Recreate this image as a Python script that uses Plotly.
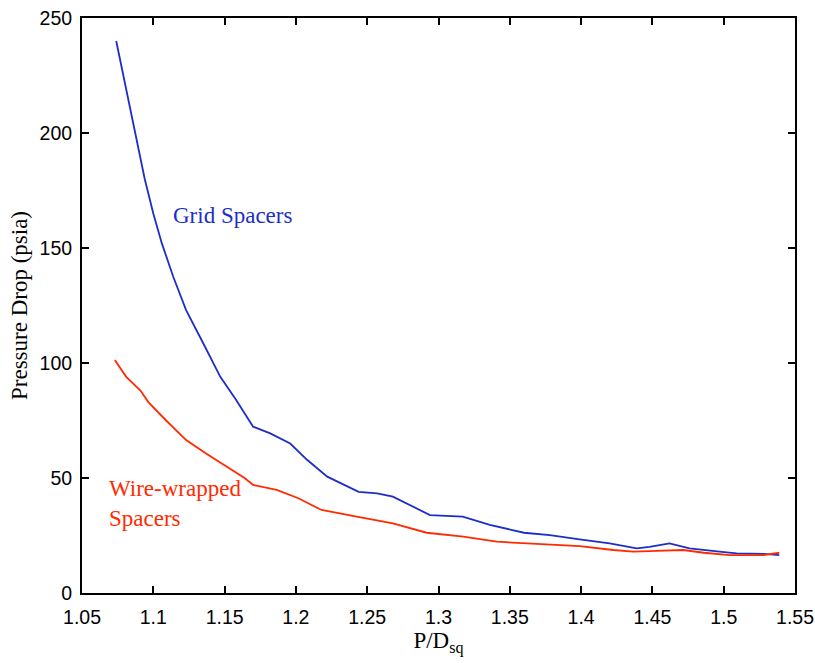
import plotly.graph_objects as go

# Grid spacers (blue)
grid_x = [1.074, 1.080, 1.087, 1.094, 1.100, 1.106, 1.114, 1.123, 1.135, 1.147,
          1.158, 1.170, 1.182, 1.196, 1.208, 1.222, 1.244, 1.257, 1.268, 1.294,
          1.317, 1.336, 1.360, 1.378, 1.399, 1.420, 1.439, 1.448, 1.462, 1.476,
          1.497, 1.509, 1.528, 1.539]
grid_y = [240, 222, 200, 180, 165, 152, 137.5, 123, 108.6, 94,
          84, 72.3, 69.4, 65, 57.8, 50.6, 44, 43.3, 41.9, 33.9,
          33.2, 29.6, 26.2, 25.2, 23.3, 21.6, 19.4, 20.1, 21.6, 19.4,
          18, 17.2, 17, 16.5]

# Wire-wrapped spacers (red)
wire_x = [1.073, 1.081, 1.091, 1.0965, 1.109, 1.123, 1.137, 1.151, 1.164, 1.170,
          1.1865, 1.2017, 1.218, 1.2426, 1.268, 1.2917, 1.3174, 1.3408, 1.3618, 1.378,
          1.399, 1.4225, 1.4366, 1.453, 1.4716, 1.486, 1.5044, 1.528, 1.539]
wire_y = [101.3, 94, 88, 83, 75, 66.5, 60.7, 55, 50, 47,
          44.8, 41.2, 36.1, 33.2, 30.3, 26.2, 24.5, 22.3, 21.6, 21.3,
          20.4, 18.7, 18, 18.3, 18.7, 17.5, 16.5, 16.5, 17.5]

x_ticks = [1.05, 1.1, 1.15, 1.2, 1.25, 1.3, 1.35, 1.4, 1.45, 1.5, 1.55]
x_tick_text = ["1.05", "1.1", "1.15", "1.2", "1.25", "1.3", "1.35", "1.4", "1.45", "1.5", "1.55"]
y_ticks = [0, 50, 100, 150, 200, 250]

BLUE = "#1c2ec8"
RED = "#ff2a00"
SERIF = "Liberation Serif"

fig = go.Figure()
fig.add_trace(go.Scatter(x=grid_x, y=grid_y, mode="lines",
                         line=dict(color=BLUE, width=1.8), showlegend=False))
fig.add_trace(go.Scatter(x=wire_x, y=wire_y, mode="lines",
                         line=dict(color=RED, width=1.8), showlegend=False))

fig.add_annotation(x=1.1555, y=164, text="Grid Spacers", showarrow=False,
                   font=dict(family=SERIF, size=23, color=BLUE),
                   xanchor="center", yanchor="middle")
fig.add_annotation(x=1.0675, y=38.9, text="Wire-wrapped<br>Spacers", showarrow=False,
                   font=dict(family=SERIF, size=23, color=RED),
                   xanchor="left", yanchor="middle", align="left")

axis_common = dict(showline=True, linecolor="black", linewidth=2, mirror="allticks",
                   ticks="inside", ticklen=7, tickwidth=1.6, tickcolor="black",
                   showgrid=False, zeroline=False, automargin=False,
                   ticklabeloverflow="allow",
                   tickfont=dict(family="Liberation Sans", size=19.5, color="black"))

fig.update_xaxes(range=[1.05, 1.55], tickmode="array", tickvals=x_ticks, ticktext=x_tick_text,
                 ticklabelstandoff=6,
                 title=dict(text="P/D<sub>sq</sub>", standoff=2,
                            font=dict(family=SERIF, size=23, color="black")),
                 **axis_common)
fig.update_yaxes(range=[0, 250], tickmode="array", tickvals=y_ticks,
                 ticklabelstandoff=4,
                 title=dict(text="Pressure Drop (psia)", standoff=6,
                            font=dict(family=SERIF, size=23, color="black")),
                 **axis_common)

fig.update_layout(template="simple_white", width=815, height=663,
                  margin=dict(l=82, r=20, t=18, b=70),
                  plot_bgcolor="white", paper_bgcolor="white")

fig.write_html("out.html",
               config={"displayModeBar": False},
               post_script="document.body.style.margin='0';document.body.style.overflow='hidden';")
